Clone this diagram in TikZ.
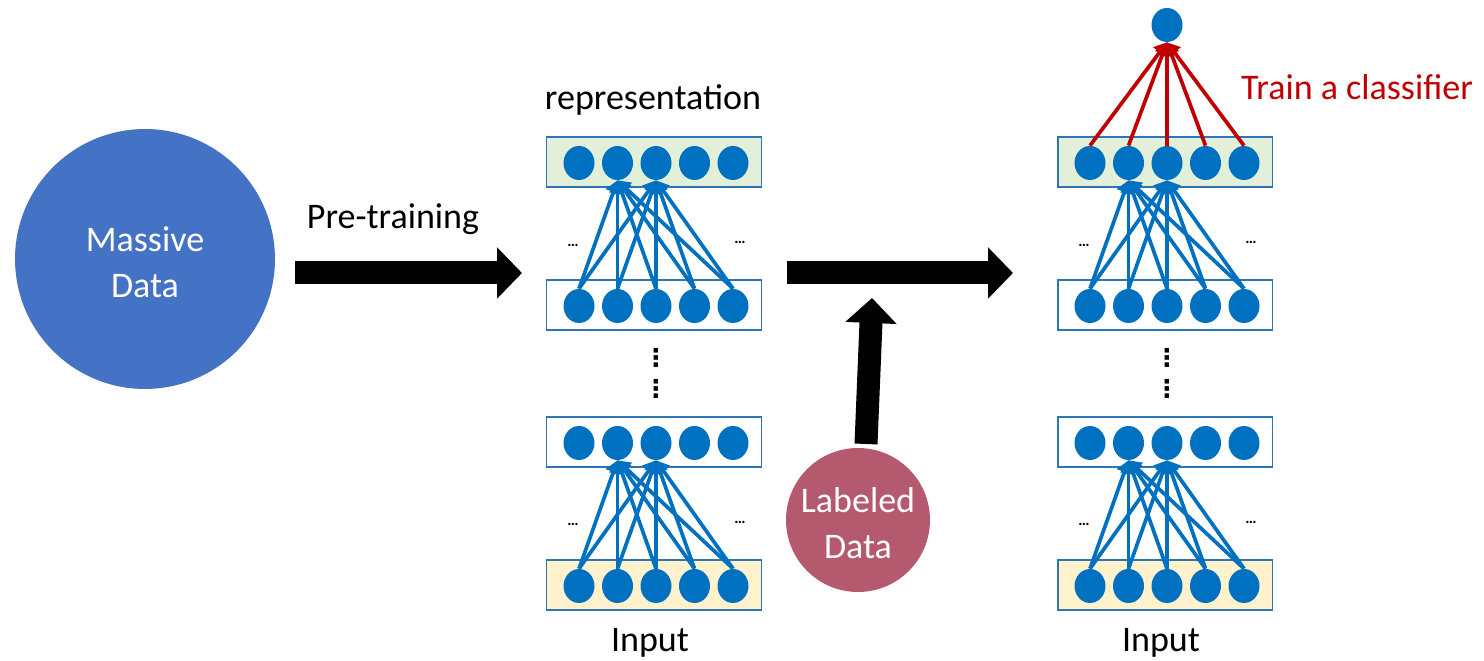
\documentclass[tikz,border=0pt]{standalone}
\usepackage{fontspec}
\setmainfont{Carlito}
\newfontfamily\symfont{DejaVu Sans}
\usepackage{tikz}
\usetikzlibrary{positioning}
\usetikzlibrary{shapes.geometric}
\usetikzlibrary{arrows.meta}
\definecolor{massblue}{HTML}{4472C4}
\definecolor{labred}{HTML}{B4596E}
\definecolor{unitblue}{HTML}{0070C0}
\definecolor{frameblue}{HTML}{2E75B6}
\definecolor{hidgreen}{HTML}{E2F0D9}
\definecolor{inyellow}{HTML}{FFF2CC}
\definecolor{clsred}{HTML}{C00000}
\newcommand{\bigtext}{\fontsize{20.5}{26}\selectfont}
\tikzset{unit/.style={ellipse, fill=unitblue, inner sep=0pt, minimum width=0.62cm, minimum height=0.68cm}}
\tikzset{layerbox/.style={rectangle, draw=frameblue, line width=1.1pt, minimum width=4.3cm, minimum height=1cm}}
\tikzset{blob/.style={circle, inner sep=0pt}}
\tikzset{blobtext/.style={font=\bigtext, text=white, align=center}}
\tikzset{fatarrow/.style={line width=0.46cm, -{Triangle[length=0.5cm, width=1cm]}}}
\tikzset{link/.style={draw=#1, line width=2.1pt, -{Triangle[length=7pt, width=9pt]}}}
\tikzset{dotdot/.style={font=\fontsize{9}{9}\selectfont\bfseries, inner sep=1pt}}
\tikzset{vdotdot/.style={font=\symfont\bfseries\fontsize{14}{14}\selectfont, inner sep=0pt}}

\begin{document}
\begin{tikzpicture}[x=0.02cm, y=-0.02cm]
    \useasboundingbox (0,0) rectangle (1484,661);
    \node [blob, fill=massblue, minimum size=5.2cm](massive) at (145,259){};
    \node [blobtext](masstext) at (145,262){Massive\\Data};
    \node [blob, fill=labred, minimum size=2.88cm](labeled) at (858,520){};
    \node [blobtext](labtext) at (858,523){Labeled\\Data};
    \node [font=\bigtext](pretrain) at (393,219){Pre-training};
    \node [font=\bigtext](repr) at (653,100){representation};
    \node [font=\bigtext, text=clsred](train) at (1357,87){Train a classifier};

    % the two networks
    \foreach \net/\dx in {L/0,R/511}{
        \foreach \row/\y/\shade in {1/162/hidgreen,2/305/white,3/442/white,4/585/inyellow}{
            \node [layerbox, fill=\shade](\net box\row) at (654+\dx,\y){};
            \foreach \k in {1,...,5}
                \node [unit](\net\row u\k) at (540.5+38.5*\k+\dx,\y+1){};
        }
        \foreach \lo/\hi in {2/1,4/3}
            \foreach \k in {1,...,5}
                \foreach \t in {2,3}
                    \draw [link=unitblue] (\net\lo u\k.north) -- (\net\hi u\t.south);
        \node [dotdot](\net dots1) at (573+\dx,245){\ldots};
        \node [dotdot](\net dots2) at (740+\dx,242){\ldots};
        \node [dotdot](\net dots3) at (573+\dx,524){\ldots};
        \node [dotdot](\net dots4) at (740+\dx,522){\ldots};
        \node [vdotdot](\net vd1) at (656+\dx,358){⋮};
        \node [vdotdot](\net vd2) at (656+\dx,389){⋮};
        \node [font=\bigtext](\net in) at (650+\dx,643){Input};
    }

    % classifier on top
    \node [unit](out) at (1167,25){};
    \foreach \k in {1,...,5}
        \draw [link=clsred] (R1u\k.north) -- (out.south);

    % big arrows
    \coordinate (pre-s) at (295,273);
    \coordinate (pre-e) at (522,273);
    \coordinate (fine-s) at (787,273);
    \coordinate (fine-e) at (1013,273);
    \coordinate (lab-s) at (866,444);
    \coordinate (lab-e) at (872,298);
    \draw [fatarrow] (pre-s) -- (pre-e);
    \draw [fatarrow] (fine-s) -- (fine-e);
    \draw [fatarrow] (lab-s) -- (lab-e);
\end{tikzpicture}
\end{document}
